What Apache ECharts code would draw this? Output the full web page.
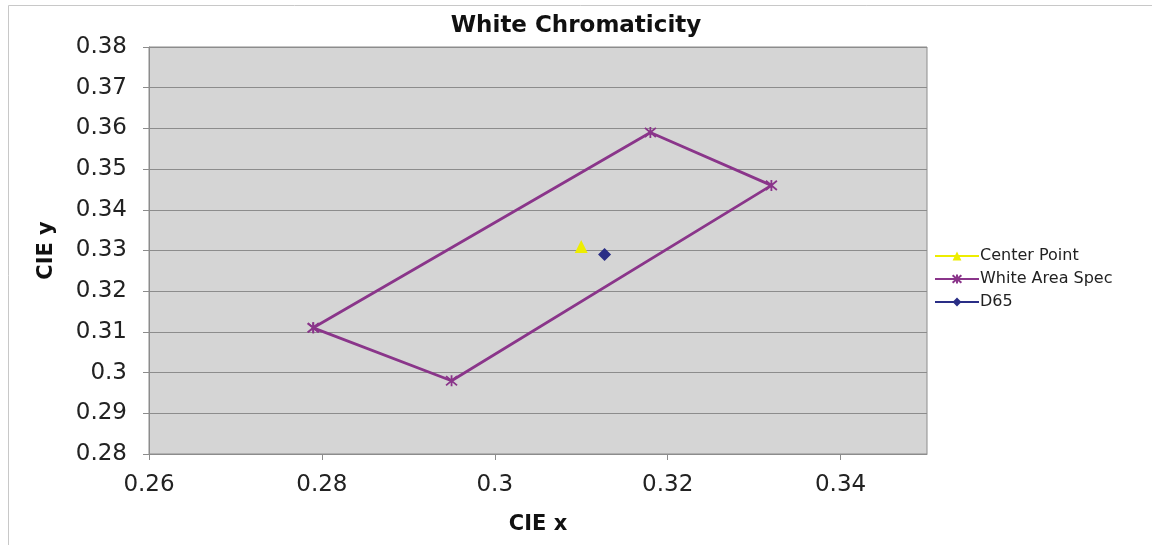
<!DOCTYPE html>
<html>
<head>
<meta charset="utf-8">
<script src="https://cdn.jsdelivr.net/npm/echarts@6/dist/echarts.min.js"></script>
<style>
html,body{margin:0;padding:0;background:#fff;}
#chart{width:1152px;height:545px;}
</style>
</head>
<body>
<div id="chart"></div>
<script>
// Data
const seriesNames = ['Center Point', 'White Area Spec', 'D65'];
const centerPoint = [[0.310, 0.331]];
const whiteAreaSpec = [[0.279, 0.311], [0.295, 0.298], [0.332, 0.346], [0.318, 0.359], [0.279, 0.311]];
const d65 = [[0.3127, 0.329]];
const xRange = [0.26, 0.35];
const yRange = [0.28, 0.38];

const chart = echarts.init(document.getElementById('chart'));
const font = 'DejaVu Sans';
const asterisk = 'path://M0,0L10,10M0,10L10,0M5,-1L5,11';

chart.setOption({
  animation: false,
  backgroundColor: '#ffffff',
  textStyle: { fontFamily: font },
  graphic: [{
    type: 'rect', z: -10, silent: true,
    shape: { x: 8.5, y: 5.5, width: 1160, height: 580 },
    style: { fill: 'none', stroke: '#c8c8c8', lineWidth: 1 }
  }],
  title: {
    text: 'White Chromaticity',
    left: 'center', top: 10,
    textStyle: { fontFamily: font, fontSize: 23, fontWeight: 'bold', color: '#111' }
  },
  legend: {
    orient: 'vertical', left: 929, top: 243,
    itemWidth: 44, itemHeight: 11, itemGap: 7,
    data: seriesNames,
    textStyle: { fontFamily: font, fontSize: 16, color: '#222', padding: [0, 0, 0, -4] }
  },
  grid: {
    left: 149, top: 47, right: 225, bottom: 91,
    show: true, backgroundColor: '#d5d5d5', borderColor: '#8c8c8c', borderWidth: 1
  },
  xAxis: {
    type: 'value', min: xRange[0], max: xRange[1], interval: 0.02,
    name: 'CIE x', nameLocation: 'middle', nameGap: 60,
    nameTextStyle: { fontFamily: font, fontSize: 21, fontWeight: 'bold', color: '#111' },
    splitLine: { show: false },
    axisLine: { show: true, lineStyle: { color: '#8c8c8c', width: 1 } },
    axisTick: { show: true, length: 6, lineStyle: { color: '#8c8c8c' } },
    axisLabel: { showMaxLabel: false, margin: 20, fontFamily: font, fontSize: 23, color: '#222' }
  },
  yAxis: {
    type: 'value', min: yRange[0], max: yRange[1], interval: 0.01,
    name: 'CIE y', nameLocation: 'middle', nameGap: 92, nameRotate: 90,
    nameTextStyle: { fontFamily: font, fontSize: 21, fontWeight: 'bold', color: '#111' },
    splitLine: { show: true, lineStyle: { color: '#8c8c8c', width: 1 } },
    axisLine: { show: true, lineStyle: { color: '#8c8c8c', width: 1 } },
    axisTick: { show: true, length: 6, lineStyle: { color: '#8c8c8c' } },
    axisLabel: { margin: 22, fontFamily: font, fontSize: 23, color: '#222' }
  },
  series: [
    {
      name: seriesNames[0], type: 'line', data: centerPoint,
      symbol: 'triangle', symbolSize: 13,
      itemStyle: { color: '#eded00' },
      lineStyle: { color: '#eded00', width: 3 }
    },
    {
      name: seriesNames[1], type: 'line', data: whiteAreaSpec,
      symbol: asterisk, symbolSize: 11,
      itemStyle: { color: '#8a358a', borderColor: '#8a358a', borderWidth: 1.8 },
      lineStyle: { color: '#8a358a', width: 2.8 }
    },
    {
      name: seriesNames[2], type: 'line', data: d65,
      symbol: 'diamond', symbolSize: 13,
      itemStyle: { color: '#2a2e86' },
      lineStyle: { color: '#2a2e86', width: 3 }
    }
  ]
});
</script>
</body>
</html>
